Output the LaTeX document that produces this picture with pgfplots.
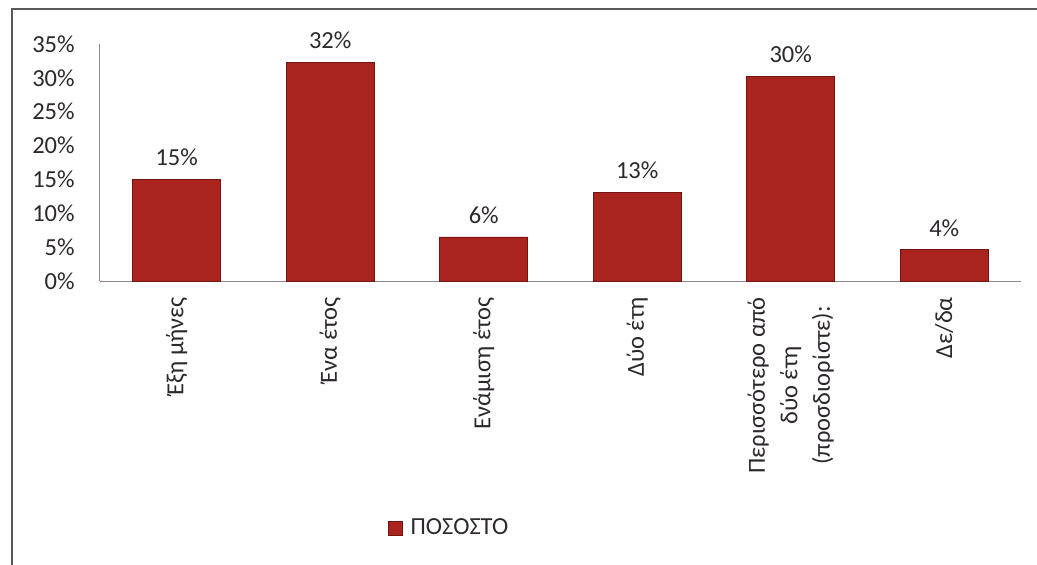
\documentclass[border=0pt]{standalone}
\usepackage{fontspec}
\setmainfont{Carlito}
\usepackage{pgfplots}
\pgfplotsset{compat=1.18}
\usepackage{pgfplotstable}
\definecolor{barred}{RGB}{170,36,31}
\definecolor{baredge}{RGB}{115,20,18}
\definecolor{axisgray}{RGB}{150,135,145}
\definecolor{txt}{RGB}{45,40,45}
\pgfplotstableread{
x y label
0 15.0 15\%
1 32.3 32\%
2 6.5 6\%
3 13.1 13\%
4 30.2 30\%
5 4.6 4\%
}\datatable
\begin{document}
\fontsize{24.5pt}{28pt}\selectfont
\begin{tikzpicture}
\path[use as bounding box] (-100pt,-284pt) rectangle (937pt,281pt);
\draw[line width=2pt, black!65] (-88pt,-284pt) -- (-88pt,272pt) -- (937pt,272pt);
\begin{axis}[
  at={(0pt,0pt)}, anchor=south west,
  scale only axis,
  width=921pt, height=237pt,
  xmin=-0.5, xmax=5.5,
  ymin=0, ymax=35,
  ytick={0,5,...,35},
  yticklabel={\pgfmathprintnumber{\tick}\%},
  /pgf/number format/assume math mode=true,
  xtick={0,1,2,3,4,5},
  xticklabels={Έξη μήνες, Ένα έτος, Ενάμιση έτος, Δύο έτη, {Περισσότερο από\\δύο έτη\\(προσδιορίστε):}, Δε/δα},
  xticklabel style={rotate=90, anchor=east, align=center, font=\fontsize{24.5pt}{32.5pt}\selectfont, text=txt, inner sep=2pt, xshift=-14pt},
  yticklabel style={font=\fontsize{24.5pt}{28pt}\selectfont, text=txt, anchor=east, xshift=-17pt},
  major tick length=0pt,
  axis lines*=left,
  axis line style={axisgray, line width=1pt, -},
  ybar, bar width=88pt,
  nodes near coords,
  point meta=explicit symbolic,
  every node near coord/.append style={font=\fontsize{24.5pt}{28pt}\selectfont, text=txt, yshift=5pt},
  legend style={at={(0.309,-1.045)}, anchor=west, draw=none, fill=none, font=\fontsize{24.5pt}{28pt}\selectfont, text=txt},
  legend image code/.code={\fill[barred, draw=baredge] (0pt,-7pt) rectangle (14pt,7pt);\path (20pt,0pt);},
  clip=false,
]
\addplot[fill=barred, draw=baredge, line width=0.8pt] table[x=x, y=y, meta=label] {\datatable};
\addlegendentry{ΠΟΣΟΣΤΟ}
\end{axis}
\end{tikzpicture}
\end{document}
